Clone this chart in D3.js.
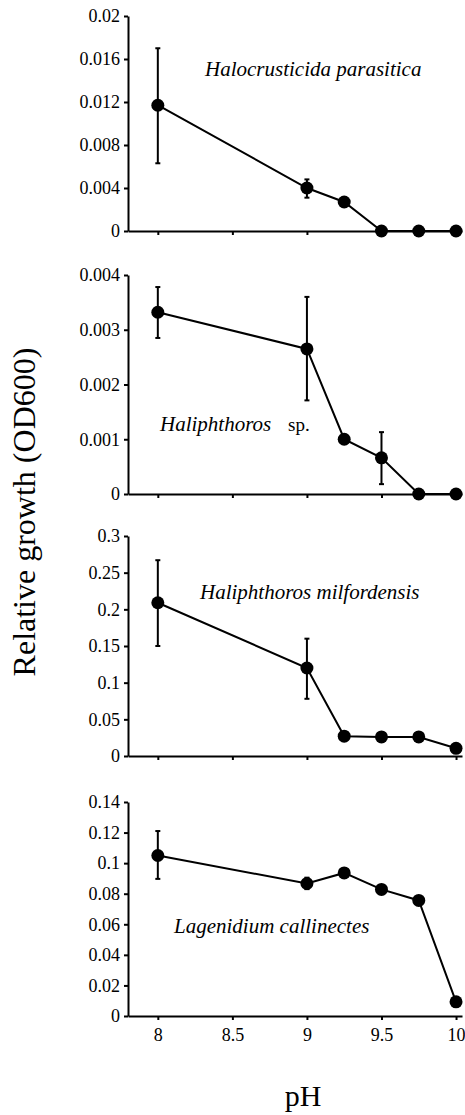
<!DOCTYPE html>
<html>
<head>
<meta charset="utf-8">
<script src="https://cdn.jsdelivr.net/npm/d3@7"></script>
<style>
  body { margin: 0; background: #fff; }
  svg { display: block; }
  text { font-family: "Liberation Serif", "Times New Roman", serif; fill: #000; }
</style>
</head>
<body>
<svg width="465" height="1115"></svg>
<script>
// pH values shared by all four panels
var phValues = [8, 9, 9.25, 9.5, 9.75, 10];
var xTickValues = [8, 8.5, 9, 9.5, 10];
var xTickLabels = ["8", "8.5", "9", "9.5", "10"];

// Halocrusticida parasitica
var halocrustMean = [0.0117, 0.0040, 0.0027, 0, 0, 0];
var halocrustLow  = [0.0063, 0.0031, null, null, null, null];
var halocrustHigh = [0.0170, 0.0048, null, null, null, null];
var halocrustTicks = [0, 0.004, 0.008, 0.012, 0.016, 0.02];
var halocrustTickLabels = ["0", "0.004", "0.008", "0.012", "0.016", "0.02"];

// Haliphthoros sp.
var haliSpMean = [0.00332, 0.00265, 0.00100, 0.00066, 0, 0];
var haliSpLow  = [0.00285, 0.00171, null, 0.00018, null, null];
var haliSpHigh = [0.00378, 0.00360, null, 0.00113, null, null];
var haliSpTicks = [0, 0.001, 0.002, 0.003, 0.004];
var haliSpTickLabels = ["0", "0.001", "0.002", "0.003", "0.004"];

// Haliphthoros milfordensis
var haliMilMean = [0.209, 0.120, 0.027, 0.026, 0.026, 0.0105];
var haliMilLow  = [0.150, 0.078, null, null, null, null];
var haliMilHigh = [0.267, 0.160, null, null, null, null];
var haliMilTicks = [0, 0.05, 0.1, 0.15, 0.2, 0.25, 0.3];
var haliMilTickLabels = ["0", "0.05", "0.1", "0.15", "0.2", "0.25", "0.3"];

// Lagenidium callinectes
var lagenMean = [0.105, 0.0867, 0.0936, 0.0828, 0.0756, 0.0093];
var lagenLow  = [0.0897, 0.0830, null, null, null, null];
var lagenHigh = [0.121, 0.0905, null, null, null, null];
var lagenTicks = [0, 0.02, 0.04, 0.06, 0.08, 0.1, 0.12, 0.14];
var lagenTickLabels = ["0", "0.02", "0.04", "0.06", "0.08", "0.1", "0.12", "0.14"];

var svg = d3.select("svg");
var serif = "Liberation Serif";

var x = d3.scaleLinear().domain([7.8, 10.04]).range([128, 462]);

var panels = [
    {mean: halocrustMean, low: halocrustLow, high: halocrustHigh, ticks: halocrustTicks, labels: halocrustTickLabels,
     top: 16, bottom: 231, name: "Halocrusticida parasitica", nameX: 205, nameY: 76},
    {mean: haliSpMean, low: haliSpLow, high: haliSpHigh, ticks: haliSpTicks, labels: haliSpTickLabels,
     top: 275, bottom: 494, name: "Haliphthoros", nameX: 160, nameY: 431, extra: "sp.", extraX: 288},
    {mean: haliMilMean, low: haliMilLow, high: haliMilHigh, ticks: haliMilTicks, labels: haliMilTickLabels,
     top: 536, bottom: 756, name: "Haliphthoros milfordensis", nameX: 200, nameY: 599},
    {mean: lagenMean, low: lagenLow, high: lagenHigh, ticks: lagenTicks, labels: lagenTickLabels,
     top: 802, bottom: 1016, name: "Lagenidium callinectes", nameX: 174, nameY: 933, showX: true}
];

panels.forEach(function (p) {
    var y = d3.scaleLinear()
        .domain([0, d3.max(p.ticks)])
        .range([p.bottom, p.top]);

    var g = svg.append("g");

    // x axis
    var xAxis = d3.axisBottom(x)
        .tickValues(xTickValues)
        .tickSize(4)
        .tickSizeOuter(0)
        .tickPadding(8)
        .tickFormat(function (d, i) { return p.showX ? xTickLabels[i] : ""; });
    var gx = g.append("g")
        .attr("transform", "translate(0," + p.bottom + ")")
        .call(xAxis);

    // y axis
    var yAxis = d3.axisLeft(y)
        .tickValues(p.ticks)
        .tickSize(4)
        .tickSizeOuter(0)
        .tickPadding(4)
        .tickFormat(function (d, i) { return p.labels[i]; });
    var gy = g.append("g")
        .attr("transform", "translate(" + x.range()[0] + ",0)")
        .call(yAxis);

    [gx, gy].forEach(function (a) {
        a.attr("font-family", serif).attr("font-size", 18);
        a.select(".domain").attr("stroke", "#000").attr("stroke-width", 2);
        a.selectAll(".tick line").attr("stroke", "#000").attr("stroke-width", 2);
        a.selectAll(".tick text")
            .attr("font-family", serif)
            .attr("font-size", 18)
            .attr("fill", "#000");
    });

    var pts = phValues.map(function (ph, i) {
        return {ph: ph, v: p.mean[i], lo: p.low[i], hi: p.high[i]};
    });

    // error bars
    var eb = g.append("g").selectAll("g")
        .data(pts.filter(function (d) { return d.lo !== null; }))
        .enter().append("g");
    eb.append("line")
        .attr("x1", function (d) { return x(d.ph); })
        .attr("x2", function (d) { return x(d.ph); })
        .attr("y1", function (d) { return y(d.lo); })
        .attr("y2", function (d) { return y(d.hi); })
        .attr("stroke", "#000").attr("stroke-width", 2);
    ["lo", "hi"].forEach(function (k) {
        eb.append("line")
            .attr("x1", function (d) { return x(d.ph) - 2.5; })
            .attr("x2", function (d) { return x(d.ph) + 2.5; })
            .attr("y1", function (d) { return y(d[k]); })
            .attr("y2", function (d) { return y(d[k]); })
            .attr("stroke", "#000").attr("stroke-width", 2);
    });

    // connecting line
    var line = d3.line()
        .x(function (d) { return x(d.ph); })
        .y(function (d) { return y(d.v); });
    g.append("path")
        .datum(pts)
        .attr("d", line)
        .attr("fill", "none")
        .attr("stroke", "#000")
        .attr("stroke-width", 2);

    // dots
    g.append("g").selectAll("circle")
        .data(pts)
        .enter().append("circle")
        .attr("cx", function (d) { return x(d.ph); })
        .attr("cy", function (d) { return y(d.v); })
        .attr("r", 6.5)
        .attr("fill", "#000");

    // species name
    g.append("text")
        .attr("x", p.nameX)
        .attr("y", p.nameY)
        .attr("font-family", serif)
        .attr("font-size", 21)
        .attr("font-style", "italic")
        .text(p.name);
    if (p.extra) {
        g.append("text")
            .attr("x", p.extraX)
            .attr("y", p.nameY)
            .attr("font-family", serif)
            .attr("font-size", 19)
            .text(p.extra);
    }
});

// axis titles
svg.append("text")
    .attr("transform", "translate(35,512) rotate(-90)")
    .attr("text-anchor", "middle")
    .attr("font-family", serif)
    .attr("font-size", 32)
    .text("Relative growth (OD600)");

svg.append("text")
    .attr("x", 303)
    .attr("y", 1106)
    .attr("text-anchor", "middle")
    .attr("font-family", serif)
    .attr("font-size", 30)
    .text("pH");
</script>
</body>
</html>
